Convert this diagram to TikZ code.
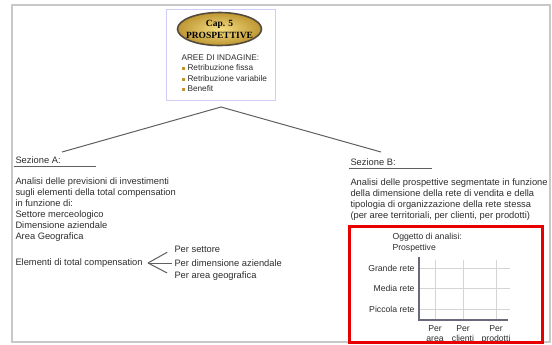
\documentclass[tikz,border=0pt]{standalone}
\usepackage{fontspec}
\setmainfont{Liberation Sans}
\newfontfamily\titlefont{Liberation Serif}

\definecolor{ink}{RGB}{45,45,45}
\definecolor{framegray}{RGB}{200,200,200}
\definecolor{linegray}{RGB}{95,95,95}
\definecolor{boxblue}{RGB}{205,205,245}
\definecolor{goldlight}{RGB}{245,222,130}
\definecolor{golddark}{RGB}{190,150,50}
\definecolor{capedge}{RGB}{85,75,60}
\definecolor{redbox}{RGB}{232,0,0}
\definecolor{axisgray}{RGB}{105,105,125}

\tikzset{every picture/.style={line width=0.75pt}}
\tikzset{
  txt/.style={inner sep=0.75pt, text=ink, font=\fontsize{7}{8.25}\selectfont},
  charttxt/.style={inner sep=0.75pt, text=ink, font=\fontsize{6.5}{7.5}\selectfont},
  small/.style={inner sep=0.75pt, text=ink, font=\fontsize{6.2}{7.5}\selectfont},
  gridline/.style={color={rgb, 255:red, 212; green, 212; blue, 212}, line width=0.6},
  bullet/.style={fill=golddark, draw=none},
}

\begin{document}
\begin{tikzpicture}[x=0.75pt,y=0.75pt,yscale=-1,xscale=1]
\useasboundingbox (0,0) rectangle (552,344);

%Shape: Rectangle (page frame)
\draw [color=framegray, line width=1.5] (12,5) rectangle (550,342);

%Shape: Rectangle
\draw [color=boxblue] (166,9) rectangle (275,100);
%Shape: Ellipse
\shade [inner color=goldlight, outer color=golddark] (219.5,29) ellipse [x radius=42, y radius=16.5];
\draw [color=capedge, line width=1.2] (219.5,29) ellipse [x radius=42, y radius=16.5];
% Text Node
\draw (219.5,29.5) node [inner sep=0pt, align=center, font=\titlefont\bfseries\fontsize{7.1}{9}\selectfont] (cap) {Cap. 5\\PROSPETTIVE};

% Text Node
\draw (180,58) node [anchor=west][small] (aree) {AREE DI INDAGINE:};
\fill [bullet] (182,66.5) rectangle (185,69.5);
\fill [bullet] (182,77.5) rectangle (185,80.5);
\fill [bullet] (182,87.5) rectangle (185,90.5);
% Text Node
\draw (186,68) node [anchor=west][small] (fissa) {Retribuzione fissa};
% Text Node
\draw (186,79) node [anchor=west][small] (variab) {Retribuzione variabile};
% Text Node
\draw (186,89) node [anchor=west][small] (benefit) {Benefit};

%Straight Lines
\coordinate (apex) at (221,107);
\coordinate (endA) at (62,152);
\coordinate (endB) at (381,152);
\draw [color=linegray] (endA) -- (apex) -- (endB);

% Text Node
\draw (14,160) node [anchor=west][txt] (secA) {Sezione A:};
\draw [color=linegray, line width=0.6] (14,166) -- (96,166);
% Text Node
\draw (14,176.5) node [anchor=north west][txt, align=left] (descA) {Analisi delle previsioni di investimenti\\sugli elementi della total compensation\\in funzione di:\\Settore merceologico\\Dimensione aziendale\\Area Geografica};
% Text Node
\draw (14,263) node [anchor=west][txt] (elem) {Elementi di total compensation};
\coordinate (brace) at (148,263);
% Text Node
\draw (173,249) node [anchor=west][txt] (perSet) {Per settore};
% Text Node
\draw (173,263) node [anchor=west][txt] (perDim) {Per dimensione aziendale};
% Text Node
\draw (173,276) node [anchor=west][txt] (perArea) {Per area geografica};
%Straight Lines
\draw [color=linegray, shorten >=5] (brace) -- (perSet.west);
\draw [color=linegray, shorten >=1] (brace) -- (perDim.west);
\draw [color=linegray, shorten >=5] (brace) -- (perArea.west);

% Text Node
\draw (349,162) node [anchor=west][txt] (secB) {Sezione B:};
\draw [color=linegray, line width=0.6] (349,168) -- (432,168);
% Text Node
\draw (349,177.5) node [anchor=north west][txt, align=left] (descB) {Analisi delle prospettive segmentate in funzione\\della dimensione della rete di vendita e della\\tipologia di organizzazione della rete stessa\\(per aree territoriali, per clienti, per prodotti)};

% Text Node
\draw (391,237) node [anchor=west][charttxt] (ogg) {Oggetto di analisi:};
% Text Node
\draw (391,248) node [anchor=west][charttxt] (prosp) {Prospettive};

%Straight Lines (grid)
\draw [gridline] (419,268) -- (510,268);
\draw [gridline] (419,288) -- (510,288);
\draw [gridline] (419,309) -- (510,309);
\draw [gridline] (435,260) -- (435,320);
\draw [gridline] (463,260) -- (463,320);
\draw [gridline] (496,260) -- (496,320);
%Shape: Axis 2D
\draw [color=axisgray, line width=1.2] (419,257) -- (419,320) -- (508,320);

% Text Node
\draw (416,268) node [anchor=east][charttxt] (grande) {Grande rete};
% Text Node
\draw (416,288) node [anchor=east][charttxt] (media) {Media rete};
% Text Node
\draw (416,309) node [anchor=east][charttxt] (piccola) {Piccola rete};
% Text Node
\draw (435,324.5) node [anchor=north][charttxt, align=center] (colArea) {Per\\area};
% Text Node
\draw (463,324.5) node [anchor=north][charttxt, align=center] (colCli) {Per\\clienti};
% Text Node
\draw (496,324.5) node [anchor=north][charttxt, align=center] (colProd) {Per\\prodotti};

%Shape: Rectangle (red frame)
\draw [color=redbox, line width=2.25] (349,226) rectangle (542,342);

\end{tikzpicture}
\end{document}
